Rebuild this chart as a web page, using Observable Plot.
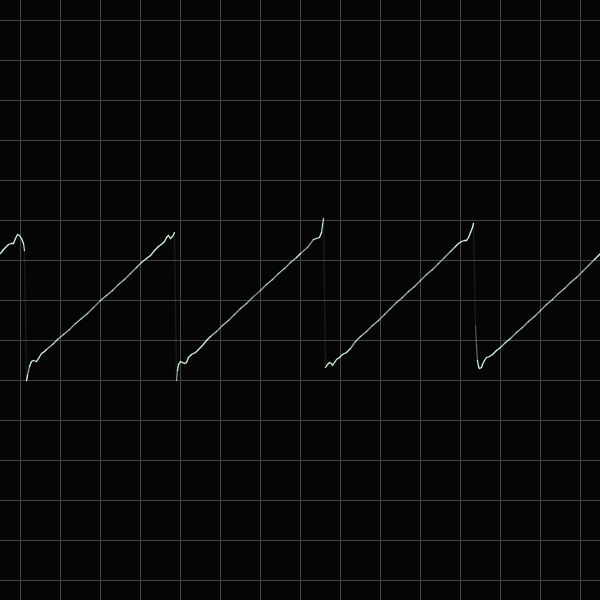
<!DOCTYPE html>
<html>
<head>
<meta charset="utf-8">
<script src="https://cdn.jsdelivr.net/npm/d3@7"></script>
<script src="https://cdn.jsdelivr.net/npm/@observablehq/plot@0.6"></script>
<style>
  html, body { margin: 0; padding: 0; background: #050505; }
  #chart svg { display: block; }
</style>
</head>
<body>
<div id="chart"></div>
<script>
// Oscilloscope trace: time (t) and voltage (v), 40 units per division
const gridTicks = [-280, -240, -200, -160, -120, -80, -40, 0, 40, 80, 120, 160, 200, 240, 280];

const t = [
  -300, -297, -295, -292, -289, -287, -285, -283, -281, -279, -277, -276,
  -274, -273, -271, -269, -267, -264, -262, -259, -256, -254,
  -248, -243, -237, -231, -225, -219, -213, -207, -200, -194, -188, -182, -176, -170, -164, -159, -154, -150, -146, -142, -138, -136, -134, -132, -130, -128, -126,
  -124, -123, -122, -120, -118, -116, -114, -112, -109, -105, -102, -98, -94, -90,
  -84, -78, -72, -66, -60, -54, -48, -40, -34, -28, -22, -16, -10, -4, 0, 7, 13, 16, 19, 21, 22, 23,
  25, 27, 29, 31, 32, 34, 36, 39, 42, 46, 50, 55,
  60, 66, 72, 78, 84, 90, 96, 102, 108, 114, 120, 126, 132, 138, 144, 150, 155, 158, 161, 164, 166, 168, 170, 172, 173,
  175, 176, 177, 178, 179, 181, 182, 184, 186, 189, 192, 196, 200,
  205, 210, 216, 222, 228, 234, 240, 246, 252, 258, 264, 270, 276, 282, 288, 294, 298, 300
];

const v = [
  47, 51, 53, 56, 57, 57, 62, 66, 65, 62, 57, 50,
  -80, -75, -66, -61, -60, -61, -58, -53, -51, -49,
  -44, -39, -34, -29, -23, -18, -13, -7, 0, 5, 10, 16, 21, 27, 33, 38, 42, 45, 50, 54, 57, 59, 63, 65, 62, 64, 68,
  -80, -70, -64, -61, -62, -63, -62, -57, -54, -52, -49, -45, -40, -36,
  -31, -25, -20, -14, -8, -3, 3, 10, 16, 21, 27, 32, 38, 43, 47, 53, 61, 62, 63, 68, 75, 82,
  -67, -64, -62, -63, -65, -62, -59, -57, -54, -52, -48, -41,
  -36, -31, -25, -20, -14, -8, -2, 3, 9, 14, 20, 26, 31, 37, 43, 49, 54, 57, 59, 60, 60, 63, 68, 73, 77,
  -26, -45, -60, -66, -68, -67, -64, -60, -57, -56, -54, -50, -47,
  -42, -38, -32, -27, -21, -16, -10, -4, 1, 7, 12, 18, 23, 29, 35, 41, 45, 47
];

const segments = [];
for (let i = 0; i < t.length - 1; i++) {
  const dx = t[i + 1] - t[i], dy = v[i + 1] - v[i];
  const len = Math.hypot(dx, dy);
  segments.push({
    x1: t[i], y1: v[i], x2: t[i + 1], y2: v[i + 1],
    o: Math.max(0.1, Math.min(1, 6 / len))
  });
}

const chart = Plot.plot({
  width: 600,
  height: 600,
  margin: 0,
  style: { background: "#050505" },
  x: { domain: [-300, 300], axis: null },
  y: { domain: [-300, 300], axis: null },
  opacity: { type: "identity" },
  marks: [
    Plot.ruleX(gridTicks, { stroke: "#444444", strokeWidth: 1 }),
    Plot.ruleY(gridTicks, { stroke: "#444444", strokeWidth: 1 }),
    Plot.link(segments, {
      x1: "x1", y1: "y1", x2: "x2", y2: "y2",
      stroke: "#d2f8dc",
      strokeWidth: 1.3,
      strokeOpacity: "o",
      strokeLinecap: "round"
    })
  ]
});
document.getElementById("chart").appendChild(chart);
</script>
</body>
</html>
